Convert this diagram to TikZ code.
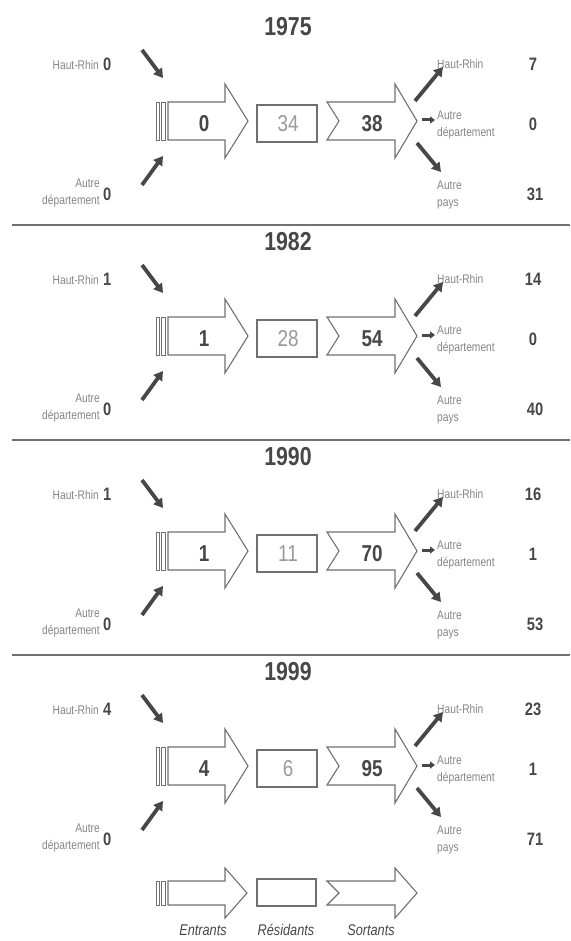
\documentclass[tikz,border=0pt]{standalone}
\usepackage{fontspec}
\setmainfont{Liberation Sans}[FakeStretch=0.82]
\usetikzlibrary{arrows.meta}
\definecolor{migline}{HTML}{707070}
\definecolor{migdark}{HTML}{474747}
\definecolor{miglight}{HTML}{858585}
\definecolor{migres}{HTML}{9A9A9A}
\tikzset{migblk/.style={draw=migline,line width=1.1pt,fill=white},
         migbar/.style={draw=migline,line width=0.8pt,fill=white},
         migflow/.style={draw=migdark,line width=3.8pt,-{Triangle[length=9pt,width=10.5pt]}},
         migstub/.style={draw=migdark,line width=3pt,-{Triangle[length=5pt,width=7pt]}},
         migsep/.style={draw=migline,line width=1.6pt},
         migtitle/.style={font=\fontsize{26}{26}\selectfont\bfseries,text=migdark},
         miglab/.style={font=\fontsize{12.5}{17}\selectfont,text=miglight,inner sep=0pt},
         migval/.style={font=\fontsize{18}{18}\selectfont\bfseries,text=migdark,inner sep=0pt},
         mignum/.style={font=\fontsize{23}{23}\selectfont\bfseries,text=migdark,inner sep=0pt},
         migresnum/.style={font=\fontsize{23}{23}\selectfont,text=migres,inner sep=0pt},
         miglegend/.style={font=\fontsize{15.5}{15.5}\selectfont\itshape,text=migdark,inner sep=0pt,anchor=base}}

\begin{document}
\begin{tikzpicture}[x=1pt,y=-1pt]
  \useasboundingbox (0,0) rectangle (570,941);
  % one panel per census year
  \foreach \i/\yr/\hr/\ad/\en/\re/\so/\ohr/\oad/\opa in
     {0/1975/0/0/0/34/38/7/0/31, 1/1982/1/0/1/28/54/14/0/40,
      2/1990/1/0/1/11/70/16/1/53, 3/1999/4/0/4/6/95/23/1/71}
  {
  \begin{scope}[shift={(0,121+215*\i)}]
    \node[migtitle] (t\i) at (288,-94) {\yr};
    % entrants
    \draw[migbar] (156,-19) rectangle (159.5,19);
    \draw[migbar] (161.5,-19) rectangle (165.5,19);
    \draw[migblk] (168,-19) -- (225,-19) -- (225,-37) -- (248,0) -- (225,37) -- (225,19) -- (168,19) -- cycle;
    \node[mignum] (en\i) at (204,3) {\en};
    % residents
    \draw[migblk] (257,-16) rectangle (317,21);
    \node[migresnum] (re\i) at (288,3) {\re};
    % sortants
    \draw[migblk] (327,-19) -- (395,-19) -- (395,-37) -- (417,0) -- (395,37) -- (395,19) -- (327,19) -- (339,0) -- cycle;
    \node[mignum] (so\i) at (372,3) {\so};
    % incoming
    \node[miglab,anchor=east] (lhr\i) at (99,-56) {Haut-Rhin};
    \node[migval,anchor=west] (vhr\i) at (103,-57) {\hr};
    \node[miglab,anchor=east,align=right] (lad\i) at (100,72) {Autre\\département};
    \node[migval,anchor=west] (vad\i) at (103,73) {\ad};
    \coordinate (ia\i) at (142,-71); \coordinate (ib\i) at (163,-43);
    \coordinate (ic\i) at (142,64);  \coordinate (id\i) at (163,35);
    \draw[migflow] (ia\i) -- (ib\i);
    \draw[migflow] (ic\i) -- (id\i);
    % outgoing
    \node[miglab,anchor=west] (rhr\i) at (437,-57) {Haut-Rhin};
    \node[miglab,anchor=west,align=left] (rad\i) at (437,4) {Autre\\département};
    \node[miglab,anchor=west,align=left] (rpa\i) at (437,74) {Autre\\pays};
    \node[migval] (ohr\i) at (533,-57) {\ohr};
    \node[migval] (oad\i) at (533,3) {\oad};
    \node[migval] (opa\i) at (535,73) {\opa};
    \coordinate (oa\i) at (415,-20); \coordinate (ob\i) at (443,-54);
    \coordinate (oc\i) at (422,-1);  \coordinate (od\i) at (435,-1);
    \coordinate (oe\i) at (417,22);  \coordinate (of\i) at (441,51);
    \draw[migflow] (oa\i) -- (ob\i);
    \draw[migstub] (oc\i) -- (od\i);
    \draw[migflow] (oe\i) -- (of\i);
  \end{scope}
  }
  \foreach \y in {225,440,655} \draw[migsep] (12,\y) -- (570,\y);
  % legend
  \begin{scope}[shift={(0,893)}]
    \draw[migbar] (156,-12) rectangle (159.5,12);
    \draw[migbar] (161.5,-12) rectangle (165.5,12);
    \draw[migblk] (168,-12) -- (225,-12) -- (225,-25) -- (247,0) -- (225,25) -- (225,12) -- (168,12) -- cycle;
    \draw[migblk] (257,-14) rectangle (316,13);
    \draw[migblk] (327,-12) -- (395,-12) -- (395,-25) -- (417,0) -- (395,25) -- (395,12) -- (327,12) -- (339,0) -- cycle;
    \node[miglegend] (len) at (203,42) {Entrants};
    \node[miglegend] (lre) at (286,42) {Résidants};
    \node[miglegend] (lso) at (371,42) {Sortants};
  \end{scope}
\end{tikzpicture}
\end{document}
